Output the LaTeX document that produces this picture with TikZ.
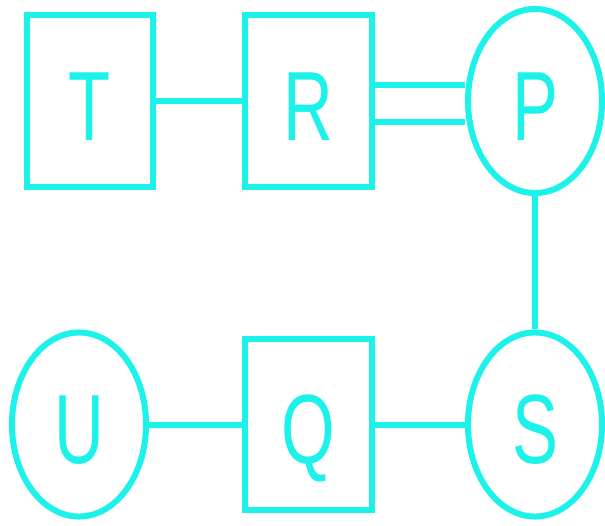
\documentclass[tikz,border=0pt]{standalone}
\usepackage{fontspec}
\setmainfont{Liberation Sans}
\usetikzlibrary{shapes.geometric}
\definecolor{diagcyan}{RGB}{28,242,234}

\newcommand{\narrowtext}[1]{\scalebox{0.7}[1]{#1}}

\tikzset{
  every node/.style={text=diagcyan, font=\fontsize{70}{80}\selectfont, inner sep=0pt,
    text height=1.95cm, text depth=0pt},
  boxnode/.style={draw=diagcyan, rectangle, minimum width=3.17cm, minimum height=4.28cm},
  ovalnode/.style={draw=diagcyan, ellipse, minimum width=3.35cm, minimum height=4.6cm},
  link/.style={draw=diagcyan}
}

\begin{document}
\begin{tikzpicture}[x=0.025cm, y=-0.025cm, line width=0.15cm]
      \useasboundingbox (0,0) rectangle (605,526);
      % top row
      \node[boxnode] (T) at (90, 101) {\narrowtext{T}};
      \node[boxnode] (R) at (308.5, 101) {\narrowtext{R}};
      \node[ovalnode] (P) at (535, 101) {\narrowtext{P}};
      % bottom row
      \node[ovalnode] (U) at (79, 424.5) {\narrowtext{U}};
      \node[boxnode] (Q) at (308.5, 424.5) {\narrowtext{Q}};
      \node[ovalnode] (S) at (535, 424.5) {\narrowtext{S}};
      \draw[link] (T.east) -- (R.west);
      \draw[link] ([yshift=0.41cm]R.east) -- ([yshift=0.41cm]P.west);
      \draw[link] ([yshift=-0.52cm]R.east) -- ([yshift=-0.52cm]P.west);
      \draw[link] (P.south) -- (S.north);
      \draw[link] (U.east) -- (Q.west);
      \draw[link] (Q.east) -- (S.west);
    \end{tikzpicture}
\end{document}
